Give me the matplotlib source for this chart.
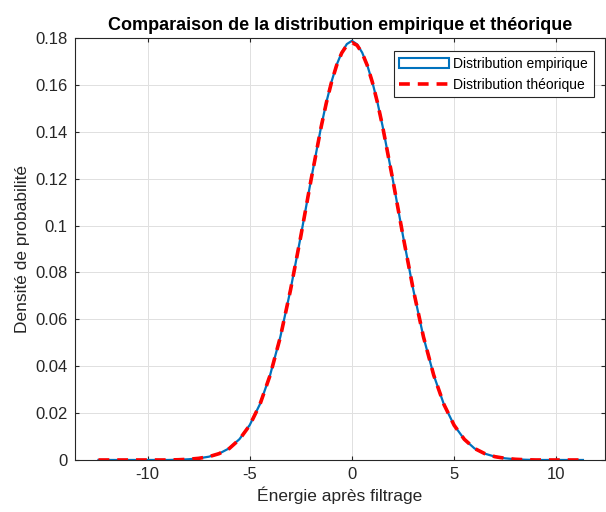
import numpy as np
import matplotlib
matplotlib.use("Agg")
import matplotlib.pyplot as plt
from matplotlib.patches import Patch

plt.rcParams['font.family'] = ['Liberation Sans', 'DejaVu Sans']
plt.rcParams['axes.unicode_minus'] = False

# energy values (x)
energie = [-12.4, -12, -11.5, -11, -10.5, -10, -9.5, -9, -8.5, -8, -7.5, -7,
           -6.5, -6, -5.5, -5, -4.5, -4, -3.5, -3, -2.5, -2, -1.5, -1.25, -1, -0.75, -0.5, -0.25,
           0, 0.25, 0.5, 0.75, 1, 1.25, 1.5, 2, 2.5, 3, 3.5, 4, 4.5, 5, 5.5, 6, 6.5, 7, 7.5,
           8, 8.5, 9, 9.5, 10, 10.5, 11, 11.3]

dens_theo = [0, 0, 0, 0, 0, 0, 0, 0, 0.0001, 0.0003, 0.0007, 0.0014,
             0.0027, 0.0049, 0.0088, 0.0148, 0.0237, 0.0362, 0.0525, 0.0727, 0.0955, 0.1195, 0.1423, 0.1524,
             0.1611, 0.1683, 0.1736, 0.1769,
             0.1780, 0.1769, 0.1736, 0.1683, 0.1611, 0.1524, 0.1423, 0.1195, 0.0955, 0.0727, 0.0525, 0.0362,
             0.0237, 0.0148, 0.0088, 0.0049, 0.0027, 0.0014, 0.0007, 0.0003, 0.0001, 0, 0, 0, 0, 0, 0]

dens_emp = [0, 0, 0, 0, 0, 0, 0, 0, 0.0001, 0.0003, 0.0007, 0.0014,
            0.0027, 0.0050, 0.0089, 0.0149, 0.0238, 0.0363, 0.0526, 0.0728, 0.0956, 0.1196, 0.1425, 0.1526,
            0.1613, 0.1685, 0.1738, 0.1774,
            0.1788, 0.1773, 0.1738, 0.1684, 0.1612, 0.1525, 0.1424, 0.1196, 0.0955, 0.0727, 0.0524, 0.0362,
            0.0237, 0.0148, 0.0088, 0.0049, 0.0027, 0.0014, 0.0007, 0.0003, 0.0001, 0, 0, 0, 0, 0, 0]

xticks = [-10, -5, 0, 5, 10]
yticks = [0, 0.02, 0.04, 0.06, 0.08, 0.1, 0.12, 0.14, 0.16, 0.18]
ytick_labels = ['0', '0.02', '0.04', '0.06', '0.08', '0.1', '0.12', '0.14', '0.16', '0.18']

blue = '#0072BD'
txt = '#262626'

fig = plt.figure(figsize=(6.06, 5.12), dpi=100)
ax = fig.add_axes([0.123, 0.1016, 0.875, 0.8242])

ax.plot(energie, dens_emp, color=blue, lw=1.6)
ax.plot(energie, dens_theo, color='red', lw=2.6, ls=(0, (3, 2.2)))

ax.set_xlim(-13.57, 12.37)
ax.set_ylim(0, 0.18)
ax.set_xticks(xticks)
ax.set_yticks(yticks)
ax.set_yticklabels(ytick_labels)
ax.grid(True, color='#e0e0e0', lw=0.7)
ax.set_axisbelow(True)
ax.tick_params(direction='in', length=3, colors=txt, labelsize=12, top=True, right=True,
               labeltop=False, labelright=False, pad=5)
for s in ax.spines.values():
    s.set_color(txt)
    s.set_linewidth(0.8)

ax.set_xlabel('Énergie après filtrage', fontsize=12.5, color=txt, labelpad=3)
ax.set_ylabel('Densité de probabilité', fontsize=12.5, color=txt, labelpad=4)
ax.set_title('Comparaison de la distribution empirique et théorique',
             fontsize=13, fontweight='bold', color='black', pad=6)

handles = [Patch(facecolor='white', edgecolor=blue, lw=1.5),
           plt.Line2D([], [], color='red', lw=2.6, ls=(0, (3, 2.2)))]
leg = ax.legend(handles, ['Distribution empirique', 'Distribution théorique'],
                loc='upper right', fontsize=10, fancybox=False, framealpha=1,
                edgecolor=txt, handlelength=3.6, handletextpad=0.3,
                borderpad=0.4, labelspacing=0.5, borderaxespad=0.5,
                bbox_to_anchor=(0.992, 0.985))
leg.get_frame().set_linewidth(0.8)

fig.savefig('out.png', dpi=100)
